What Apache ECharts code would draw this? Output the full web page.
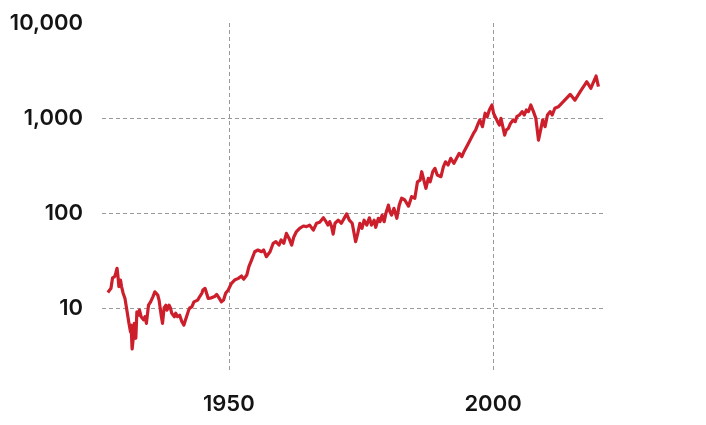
<!DOCTYPE html>
<html>
<head>
<meta charset="utf-8">
<script src="https://cdn.jsdelivr.net/npm/echarts@6/dist/echarts.min.js"></script>
<style>
  html, body { margin: 0; padding: 0; background: #fff; }
  #chart { width: 706px; height: 425px; }
</style>
</head>
<body>
<div id="chart"></div>
<script>
// 数据：年份与指数值（对数刻度）
var years = [
  1927.1, 1927.7, 1928.0, 1928.4, 1928.6, 1928.85, 1929.0, 1929.2, 1929.5, 1929.7,
  1930.0, 1930.35, 1930.8, 1931.1, 1931.4, 1931.5, 1931.7, 1931.95, 1932.1, 1932.4,
  1932.6, 1932.9, 1933.1, 1933.4, 1933.65, 1933.9, 1934.15, 1934.4, 1934.8, 1935.2,
  1935.65, 1936.0, 1936.3, 1936.55, 1936.8, 1937.2, 1937.45, 1937.75, 1938.1, 1938.3,
  1938.7, 1938.95, 1939.2, 1939.45, 1939.7, 1939.95, 1940.3, 1940.7, 1941.1, 1941.5,
  1941.7, 1942.0, 1942.4, 1942.6, 1943.0, 1943.4, 1943.75, 1944.1, 1944.5, 1944.9,
  1945.1, 1945.5, 1945.8, 1946.1, 1946.7, 1947.3, 1947.7, 1948.2, 1948.6, 1949.0,
  1949.4, 1949.9, 1950.5, 1951.1, 1951.8, 1952.4, 1952.8, 1953.4, 1953.8, 1954.3,
  1954.9, 1955.5, 1956.2, 1956.6, 1957.1, 1957.8, 1958.4, 1958.9, 1959.5, 1959.9,
  1960.4, 1960.9, 1961.4, 1961.9, 1962.3, 1962.8, 1963.4, 1964.1, 1964.7, 1965.3,
  1966.0, 1966.6, 1967.2, 1967.9, 1968.4, 1968.75, 1969.1, 1969.45, 1969.75, 1970.1,
  1970.7, 1971.3, 1972.3, 1972.8, 1973.35, 1973.7, 1974.0, 1974.4, 1974.8, 1975.2,
  1975.6, 1976.1, 1976.6, 1977.0, 1977.5, 1977.8, 1978.3, 1978.6, 1979.0, 1979.4,
  1979.7, 1980.2, 1980.5, 1980.8, 1981.25, 1981.8, 1982.25, 1982.7, 1983.3, 1984.0,
  1984.6, 1985.2, 1985.7, 1986.2, 1986.5, 1986.8, 1987.3, 1987.75, 1988.1, 1988.6,
  1989.0, 1989.45, 1989.8, 1990.15, 1990.6, 1991.0, 1991.5, 1992.0, 1992.6, 1993.1,
  1993.6, 1994.1, 1994.5, 1995.0, 1995.5, 1995.8, 1996.3, 1996.7, 1997.2, 1997.5,
  1998.0, 1998.5, 1998.9, 1999.3, 1999.8, 2000.1, 2000.4, 2000.85, 2001.2, 2001.5,
  2001.85, 2002.2, 2002.5, 2002.9, 2003.3, 2003.8, 2004.2, 2004.5, 2005.0, 2005.5,
  2005.9, 2006.3, 2006.7, 2007.15, 2007.65, 2008.1, 2008.6, 2009.0, 2009.4, 2009.85,
  2010.3, 2010.8, 2011.2, 2011.7, 2012.35, 2013.3, 2014.6, 2015.5, 2016.5, 2017.75,
  2018.5, 2019.5, 2019.95
];

var values = [
  14.6, 16.1, 20.8, 21.4, 23.2, 26.2, 22.2, 16.8, 19.7, 16.8,
  14.3, 12.6, 8.8, 6.9, 5.6, 6.6, 3.7, 5.0, 6.9, 4.8,
  9.1, 8.4, 9.5, 8.1, 8.4, 7.5, 8.1, 6.9, 10.7, 11.6,
  13.2, 14.8, 15.5, 13.7, 12.1, 8.4, 6.9, 10.0, 10.7, 9.5,
  10.7, 10.0, 8.8, 9.1, 8.1, 8.8, 8.1, 8.4, 7.2, 6.6,
  7.2, 8.1, 9.5, 10.0, 10.3, 11.6, 11.2, 12.1, 13.2, 14.3,
  15.5, 16.1, 15.7, 12.6, 12.8, 13.2, 13.9, 12.6, 11.6, 12.1,
  14.3, 15.5, 18.2, 19.7, 20.5, 21.7, 20.1, 22.2, 27.2, 31.9,
  39.1, 40.8, 39.1, 40.8, 34.7, 39.1, 48.0, 50.0, 46.0, 52,
  48, 61, 54, 46, 56, 63.8, 69, 73, 71.8, 74.6,
  66, 78, 80, 89, 81, 74.6, 81, 71.8, 60, 78,
  84, 78, 97.9, 84, 78, 81, 50, 61, 78, 69,
  84, 74.6, 89, 74.6, 84, 70.7, 88, 81, 95, 81,
  98, 121, 103, 95, 112, 88, 121, 143, 137, 118,
  149, 143, 213, 222, 272, 283, 182, 232, 213, 272,
  295, 251, 261, 241, 306, 346, 320, 376, 333, 376,
  425, 392, 442, 499, 563, 585, 688, 746, 877, 955,
  810, 1123, 1032, 1213, 1370, 1123, 1167, 915, 843, 993,
  810, 660, 746, 776, 877, 955, 915, 1032, 1075, 1167,
  1075, 1213, 1167, 1370, 1167, 993, 585, 746, 955, 810,
  1075, 1167, 1075, 1266, 1313, 1484, 1775, 1541, 1894, 2410,
  2055, 2766, 2142
];

var xTickLabels = [1950, 2000];
var yTickLabels = [10, 100, 1000, 10000];

var chart = echarts.init(document.getElementById('chart'), null, { renderer: 'canvas' });

var labelFont = {
  color: '#141414',
  fontFamily: 'Inter',
  fontWeight: 600,
  fontSize: 22
};

var gridLine = {
  show: true,
  showMinLine: false,
  showMaxLine: false,
  lineStyle: { color: '#9a9a9a', width: 1, type: [4, 3] }
};

var option = {
  animation: false,
  grid: { left: 102, right: 102, top: 23, bottom: 53, containLabel: false },
  xAxis: {
    type: 'value',
    min: 1926,
    max: 2021,
    splitNumber: 2,
    minInterval: 50,
    maxInterval: 50,
    axisLine: { show: false },
    axisTick: { show: false },
    axisLabel: Object.assign({
      margin: 21,
      showMinLabel: false,
      showMaxLabel: false,
      formatter: function (v) {
        return xTickLabels.indexOf(Math.round(v)) >= 0 && Math.abs(v - Math.round(v)) < 1e-6 ? String(Math.round(v)) : '';
      }
    }, labelFont),
    splitLine: gridLine
  },
  yAxis: {
    type: 'log',
    logBase: 10,
    min: 2.12,
    max: 10000,
    axisLine: { show: false },
    axisTick: { show: false },
    axisLabel: Object.assign({
      margin: 19,
      showMinLabel: false,
      formatter: function (v) {
        for (var i = 0; i < yTickLabels.length; i++) {
          if (Math.abs(v - yTickLabels[i]) / yTickLabels[i] < 1e-6) {
            return yTickLabels[i].toLocaleString('en-US');
          }
        }
        return '';
      }
    }, labelFont),
    splitLine: gridLine
  },
  series: [{
    type: 'line',
    data: years.map(function (y, i) { return [y, values[i]]; }),
    showSymbol: false,
    symbol: 'none',
    lineStyle: { color: '#cc1f2b', width: 3.2, join: 'round' }
  }]
};

chart.setOption(option);
</script>
</body>
</html>
